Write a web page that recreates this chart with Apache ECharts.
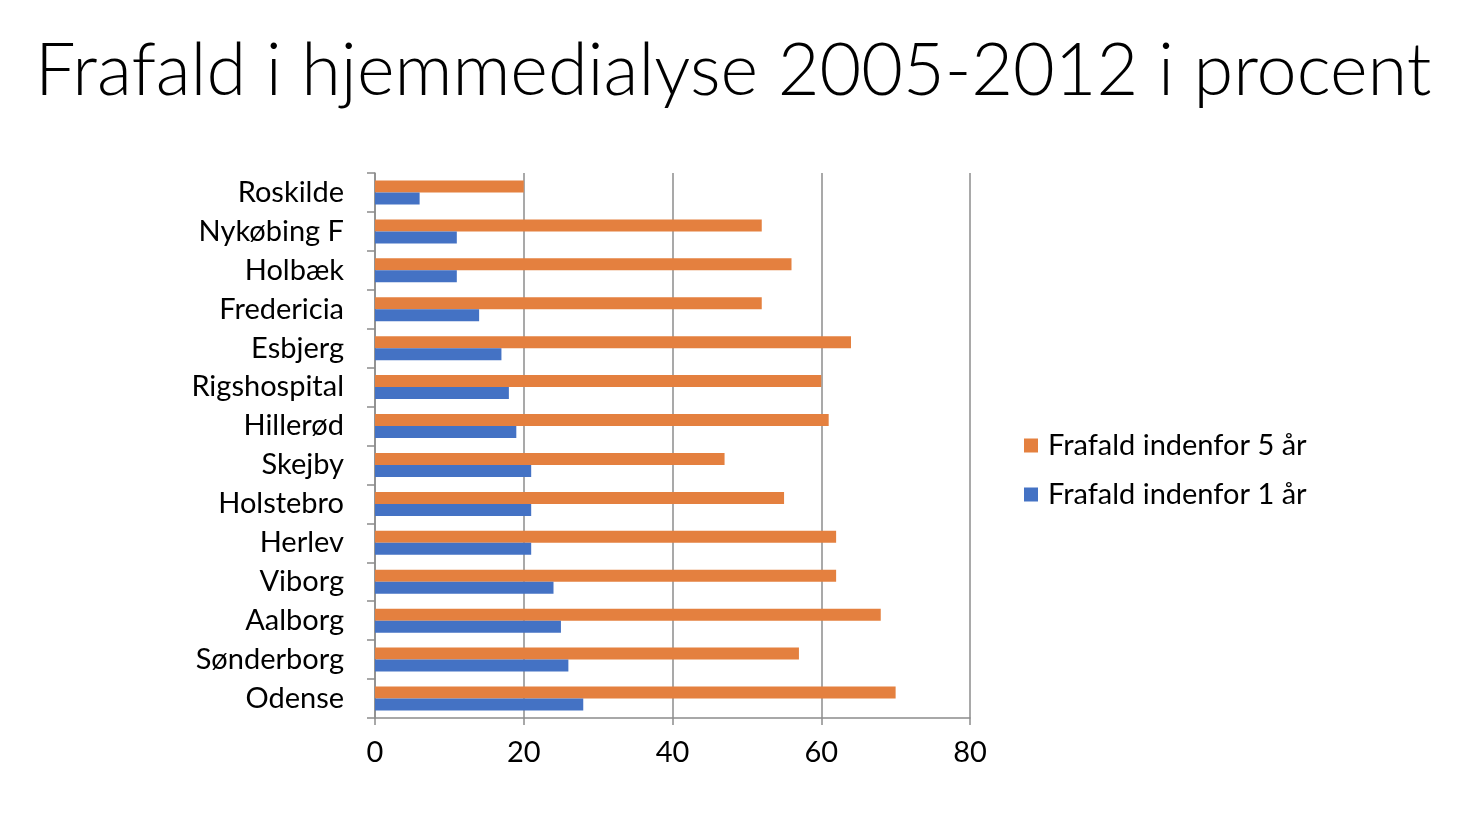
<!DOCTYPE html>
<html>
<head>
<meta charset="utf-8">
<script src="https://cdn.jsdelivr.net/npm/echarts@6/dist/echarts.min.js"></script>
<style>
  html, body { margin: 0; padding: 0; background: #fff; }
  #chart { width: 1472px; height: 832px; }
</style>
</head>
<body>
<div id="chart"></div>
<script>
// afdelinger, oppefra og ned som i figuren
var categories = ['Roskilde', 'Nykøbing F', 'Holbæk', 'Fredericia', 'Esbjerg', 'Rigshospital', 'Hillerød',
    'Skejby', 'Holstebro', 'Herlev', 'Viborg', 'Aalborg', 'Sønderborg', 'Odense'];
// frafald i procent
var frafald5aar = [20, 52, 56, 52, 64, 60, 61, 47, 55, 62, 62, 68, 57, 70];
var frafald1aar = [6, 11, 11, 14, 17, 18, 19, 21, 21, 21, 24, 25, 26, 28];
var xTicks = [0, 20, 40, 60, 80];

var fontFamily = 'Lato, "Open Sans", sans-serif';
var chart = echarts.init(document.getElementById('chart'));

chart.setOption({
    animation: false,
    backgroundColor: '#fff',
    title: {
        text: 'Frafald i hjemmedialyse 2005-2012 i procent',
        left: 30,
        top: 31,
        textStyle: { fontFamily: fontFamily, fontWeight: 300, fontSize: 72, color: '#000' }
    },
    legend: {
        orient: 'vertical',
        left: 1019,
        top: 426,
        itemWidth: 14,
        itemHeight: 14,
        itemGap: 20,
        icon: 'rect',
        textStyle: { fontFamily: fontFamily, fontSize: 29, color: '#000', padding: [0, 0, 0, 5] },
        data: ['Frafald indenfor 5 år', 'Frafald indenfor 1 år']
    },
    grid: { left: 375, right: 502, top: 173, bottom: 114, containLabel: false },
    xAxis: {
        type: 'value',
        min: xTicks[0],
        max: xTicks[xTicks.length - 1],
        interval: 20,
        axisLine: { show: true, lineStyle: { color: '#8c8c8c', width: 1.5 } },
        axisTick: { show: true, length: 7, lineStyle: { color: '#8c8c8c', width: 1.5 } },
        splitLine: { show: true, lineStyle: { color: '#8c8c8c', width: 1.5 } },
        axisLabel: { fontFamily: fontFamily, fontSize: 29, color: '#000', margin: 20 }
    },
    yAxis: {
        type: 'category',
        inverse: true,
        data: categories,
        axisLine: { show: true, lineStyle: { color: '#8c8c8c', width: 1.5 } },
        axisTick: { show: true, length: 8, lineStyle: { color: '#8c8c8c', width: 1.5 } },
        axisLabel: { fontFamily: fontFamily, fontSize: 29, color: '#000', margin: 31 }
    },
    series: [
        {
            name: 'Frafald indenfor 5 år',
            type: 'bar',
            data: frafald5aar,
            itemStyle: { color: '#E4803F' },
            barWidth: 12,
            barGap: '0%'
        },
        {
            name: 'Frafald indenfor 1 år',
            type: 'bar',
            data: frafald1aar,
            itemStyle: { color: '#4472C4' },
            barWidth: 12,
            barGap: '0%'
        }
    ]
});
</script>
</body>
</html>
